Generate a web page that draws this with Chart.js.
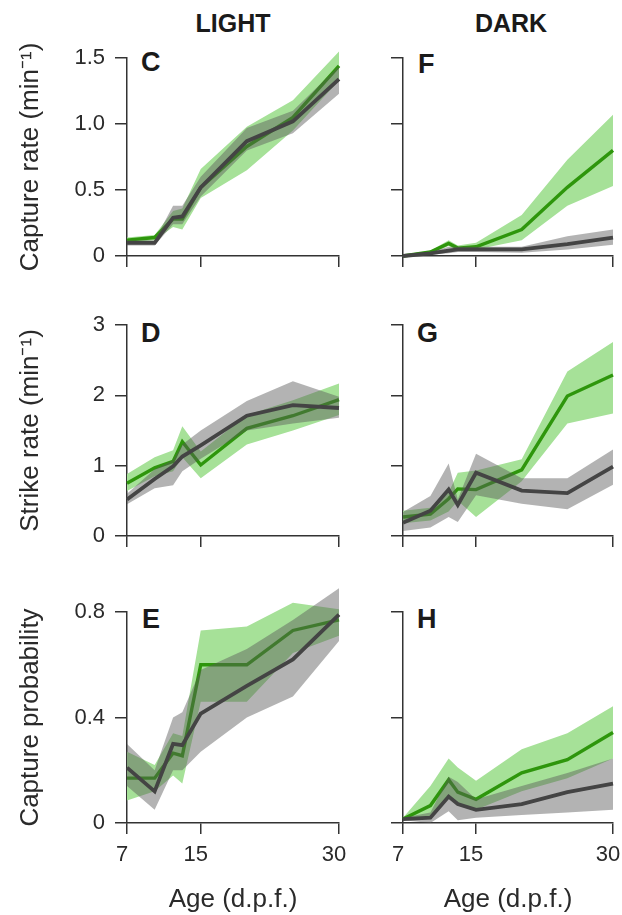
<!DOCTYPE html>
<html><head><meta charset="utf-8">
<script src="https://cdn.jsdelivr.net/npm/chart.js@4.4.0/dist/chart.umd.min.js"></script>
<style>
body{margin:0;background:#fff;width:622px;height:915px;position:relative;overflow:hidden;font-family:"Liberation Sans",Arial,Helvetica,sans-serif;}
canvas{position:absolute;}
.hd{position:absolute;font-weight:bold;color:#1a1a1a;white-space:nowrap;line-height:30px;}
.col{width:200px;text-align:center;font-size:25px;}
.let{font-size:27px;}
</style></head><body>
<div class="hd col" style="left:133px;top:8px;">LIGHT</div>
<div class="hd col" style="left:411px;top:8px;">DARK</div>
<div class="hd let" style="left:141px;top:47px;">C</div>
<div class="hd let" style="left:141px;top:318px;">D</div>
<div class="hd let" style="left:142px;top:604px;">E</div>
<div class="hd let" style="left:418px;top:49px;">F</div>
<div class="hd let" style="left:417px;top:318px;">G</div>
<div class="hd let" style="left:417px;top:604px;">H</div>
<canvas id="cC" width="350" height="290" style="left:0;top:0;"></canvas>
<canvas id="cF" width="272" height="290" style="left:350px;top:0;"></canvas>
<canvas id="cD" width="350" height="280" style="left:0;top:290px;"></canvas>
<canvas id="cG" width="272" height="280" style="left:350px;top:290px;"></canvas>
<canvas id="cE" width="350" height="345" style="left:0;top:570px;"></canvas>
<canvas id="cH" width="272" height="345" style="left:350px;top:570px;"></canvas>
<script>
// ---- data ----
const days = [7, 10, 12, 13, 15, 20, 25, 30];
const xTickValues = [7, 15, 30];
const xTickLabels = ['7', '15', '30'];
const captureTickValues = [0, 0.5, 1.0, 1.5];
const captureTickLabels = ['0', '0.5', '1.0', '1.5'];
const strikeTickValues = [0, 1, 2, 3];
const strikeTickLabels = ['0', '1', '2', '3'];
const probTickValues = [0, 0.4, 0.8];
const probTickLabels = ['0', '0.4', '0.8'];

// C: light, capture rate
const greenC   = [0.12, 0.14, 0.28, 0.28, 0.52, 0.83, 1.05, 1.44];
const greenCLo = [0.10, 0.12, 0.22, 0.20, 0.44, 0.65, 0.95, 1.33];
const greenCHi = [0.14, 0.16, 0.34, 0.36, 0.66, 0.98, 1.18, 1.55];
const grayC    = [0.10, 0.10, 0.29, 0.30, 0.52, 0.87, 1.02, 1.34];
const grayCLo  = [0.08, 0.08, 0.24, 0.24, 0.45, 0.80, 0.93, 1.23];
const grayCHi  = [0.12, 0.12, 0.38, 0.38, 0.60, 0.97, 1.10, 1.44];
// D: light, strike rate
const greenD   = [0.75, 0.97, 1.06, 1.34, 1.01, 1.53, 1.71, 1.94];
const greenDLo = [0.64, 0.85, 0.92, 1.12, 0.82, 1.30, 1.50, 1.72];
const greenDHi = [0.88, 1.12, 1.22, 1.56, 1.20, 1.72, 1.93, 2.17];
const grayD    = [0.52, 0.81, 0.99, 1.13, 1.29, 1.71, 1.86, 1.82];
const grayDLo  = [0.45, 0.68, 0.72, 0.92, 1.10, 1.50, 1.60, 1.68];
const grayDHi  = [0.60, 0.95, 1.08, 1.30, 1.50, 1.92, 2.20, 1.98];
// E: light, capture probability
const greenE   = [0.17, 0.17, 0.265, 0.255, 0.60, 0.60, 0.73, 0.77];
const greenELo = [0.085, 0.12, 0.18, 0.15, 0.46, 0.46, 0.645, 0.71];
const greenEHi = [0.27, 0.22, 0.34, 0.33, 0.73, 0.745, 0.835, 0.81];
const grayE    = [0.21, 0.12, 0.30, 0.295, 0.415, 0.52, 0.62, 0.79];
const grayELo  = [0.14, 0.05, 0.20, 0.20, 0.27, 0.40, 0.48, 0.69];
const grayEHi  = [0.30, 0.20, 0.40, 0.42, 0.58, 0.66, 0.77, 0.89];
// F: dark, capture rate
const greenF   = [0.00, 0.03, 0.095, 0.06, 0.07, 0.20, 0.52, 0.80];
const greenFLo = [0.00, 0.02, 0.075, 0.045, 0.05, 0.12, 0.38, 0.53];
const greenFHi = [0.01, 0.04, 0.12, 0.08, 0.10, 0.31, 0.73, 1.07];
const grayF    = [0.00, 0.02, 0.04, 0.05, 0.05, 0.05, 0.09, 0.14];
const grayFLo  = [0.00, 0.01, 0.02, 0.03, 0.03, 0.025, 0.05, 0.085];
const grayFHi  = [0.01, 0.03, 0.07, 0.07, 0.07, 0.07, 0.15, 0.20];
// G: dark, strike rate
const greenG   = [0.27, 0.31, 0.53, 0.67, 0.66, 0.94, 1.99, 2.29];
const greenGLo = [0.18, 0.22, 0.35, 0.50, 0.27, 0.78, 1.60, 1.74];
const greenGHi = [0.36, 0.40, 0.62, 0.90, 0.93, 1.09, 2.34, 2.76];
const grayG    = [0.19, 0.36, 0.66, 0.44, 0.90, 0.645, 0.61, 0.985];
const grayGLo  = [0.07, 0.12, 0.27, 0.20, 0.58, 0.46, 0.38, 0.73];
const grayGHi  = [0.34, 0.57, 1.03, 0.52, 1.17, 0.82, 0.82, 1.23];
// H: dark, capture probability
const greenH   = [0.015, 0.066, 0.164, 0.117, 0.09, 0.19, 0.24, 0.343];
const greenHLo = [0.01, 0.02, 0.10, 0.07, 0.05, 0.12, 0.17, 0.245];
const greenHHi = [0.02, 0.14, 0.245, 0.21, 0.16, 0.28, 0.34, 0.443];
const grayH    = [0.015, 0.02, 0.10, 0.072, 0.05, 0.072, 0.117, 0.149];
const grayHLo  = [0.01, 0.0, 0.045, 0.01, 0.02, 0.03, 0.04, 0.05];
const grayHHi  = [0.02, 0.04, 0.175, 0.155, 0.09, 0.14, 0.19, 0.245];

// ---- style ----
const FONT = '"Liberation Sans", Arial, Helvetica, sans-serif';
const TEXT = '#2a2a2a';
const AXIS = '#333';
const GREEN_LINE = '#2e960c';
const GREEN_BAND = '#a6e198';
const GRAY_LINE = '#444444';
const GRAY_BAND = 'rgba(90,90,90,0.46)';

const bandPlugin = {
  id: 'band',
  beforeDatasetDraw(chart, args) {
    const ds = chart.data.datasets[args.index];
    if (!ds.bandLo) return;
    const xs = chart.scales.x, ys = chart.scales.y, ctx = chart.ctx;
    ctx.save();
    ctx.beginPath();
    ds.bandHi.forEach((v, i) => {
      const px = xs.getPixelForValue(days[i]), py = ys.getPixelForValue(v);
      if (i === 0) ctx.moveTo(px, py); else ctx.lineTo(px, py);
    });
    for (let i = ds.bandLo.length - 1; i >= 0; i--) {
      ctx.lineTo(xs.getPixelForValue(days[i]), ys.getPixelForValue(ds.bandLo[i]));
    }
    ctx.closePath();
    ctx.fillStyle = ds.bandColor;
    ctx.fill();
    ctx.restore();
  }
};

function pts(vals) { return days.map((d, i) => ({ x: d, y: vals[i] })); }

function makePanel(id, c) {
  new Chart(document.getElementById(id), {
    type: 'line',
    data: { datasets: [
      { data: pts(c.gray), borderColor: GRAY_LINE, borderWidth: 3.8, pointRadius: 0, fill: false, clip: false, tension: 0,
        bandLo: c.grayLo, bandHi: c.grayHi, bandColor: GRAY_BAND },
      { data: pts(c.green), borderColor: GREEN_LINE, borderWidth: 3.4, pointRadius: 0, fill: false, clip: false, tension: 0,
        bandLo: c.greenLo, bandHi: c.greenHi, bandColor: GREEN_BAND }
    ]},
    options: {
      responsive: false, animation: false, events: [],
      layout: { padding: { left: 0, top: c.padTop, right: c.padRight, bottom: 0 } },
      plugins: { legend: { display: false }, tooltip: { enabled: false } },
      scales: {
        x: {
          type: 'linear', min: 7, max: 30,
          afterBuildTicks: s => { s.ticks = xTickValues.map(v => ({ value: v })); },
          afterFit: s => { s.height = c.xHeight; s.paddingLeft = 0; s.paddingRight = 0; },
          grid: { drawOnChartArea: false, drawTicks: true, tickLength: 11, color: AXIS, lineWidth: 1.5 },
          border: { display: true, color: AXIS, width: 1.5 },
          ticks: { autoSkip: false, maxRotation: 0, padding: 8, labelOffset: -5, color: TEXT,
                   font: { size: 22, family: FONT },
                   callback: (v, i) => c.showX ? xTickLabels[i] : '' },
          title: { display: !!c.xTitle, text: c.xTitle || '', color: TEXT,
                   font: { size: 26, family: FONT }, padding: { top: 0, bottom: 0 } }
        },
        y: {
          type: 'linear', min: c.yTicks[0], max: c.yTicks[c.yTicks.length - 1],
          afterBuildTicks: s => { s.ticks = c.yTicks.map(v => ({ value: v })); },
          afterFit: s => { s.width = c.yWidth; s.paddingTop = 0; s.paddingBottom = 0; },
          grid: { drawOnChartArea: false, drawTicks: true, tickLength: 12, color: AXIS, lineWidth: 1.5 },
          border: { display: true, color: AXIS, width: 1.5 },
          ticks: { autoSkip: false, padding: 10, color: TEXT, font: { size: 22, family: FONT },
                   callback: (v, i) => c.yLabels ? c.yLabels[i] : '' },
          title: { display: !!c.yTitle, text: c.yTitle || '', color: TEXT,
                   font: { size: 26, family: FONT }, padding: { top: 15, bottom: 0 } }
        }
      }
    },
    plugins: [bandPlugin]
  });
}

const SUP = '\u207B\u00B9';
makePanel('cC', { green: greenC, greenLo: greenCLo, greenHi: greenCHi, gray: grayC, grayLo: grayCLo, grayHi: grayCHi,
  yTicks: captureTickValues, yLabels: captureTickLabels, yTitle: 'Capture rate (min' + SUP + ')',
  showX: false, yWidth: 127, xHeight: 34, padTop: 58, padRight: 11 });
makePanel('cF', { green: greenF, greenLo: greenFLo, greenHi: greenFHi, gray: grayF, grayLo: grayFLo, grayHi: grayFHi,
  yTicks: captureTickValues, yLabels: null, showX: false, yWidth: 53, xHeight: 34, padTop: 58, padRight: 9 });
makePanel('cD', { green: greenD, greenLo: greenDLo, greenHi: greenDHi, gray: grayD, grayLo: grayDLo, grayHi: grayDHi,
  yTicks: strikeTickValues, yLabels: strikeTickLabels, yTitle: 'Strike rate (min' + SUP + ')',
  showX: false, yWidth: 127, xHeight: 34, padTop: 35, padRight: 11 });
makePanel('cG', { green: greenG, greenLo: greenGLo, greenHi: greenGHi, gray: grayG, grayLo: grayGLo, grayHi: grayGHi,
  yTicks: strikeTickValues, yLabels: null, showX: false, yWidth: 53, xHeight: 34, padTop: 35, padRight: 9 });
makePanel('cE', { green: greenE, greenLo: greenELo, greenHi: greenEHi, gray: grayE, grayLo: grayELo, grayHi: grayEHi,
  yTicks: probTickValues, yLabels: probTickLabels, yTitle: 'Capture probability', xTitle: 'Age (d.p.f.)',
  showX: true, yWidth: 127, xHeight: 92, padTop: 42, padRight: 11 });
makePanel('cH', { green: greenH, greenLo: greenHLo, greenHi: greenHHi, gray: grayH, grayLo: grayHLo, grayHi: grayHHi,
  yTicks: probTickValues, yLabels: null, xTitle: 'Age (d.p.f.)',
  showX: true, yWidth: 53, xHeight: 92, padTop: 42, padRight: 9 });
</script>
</body></html>
